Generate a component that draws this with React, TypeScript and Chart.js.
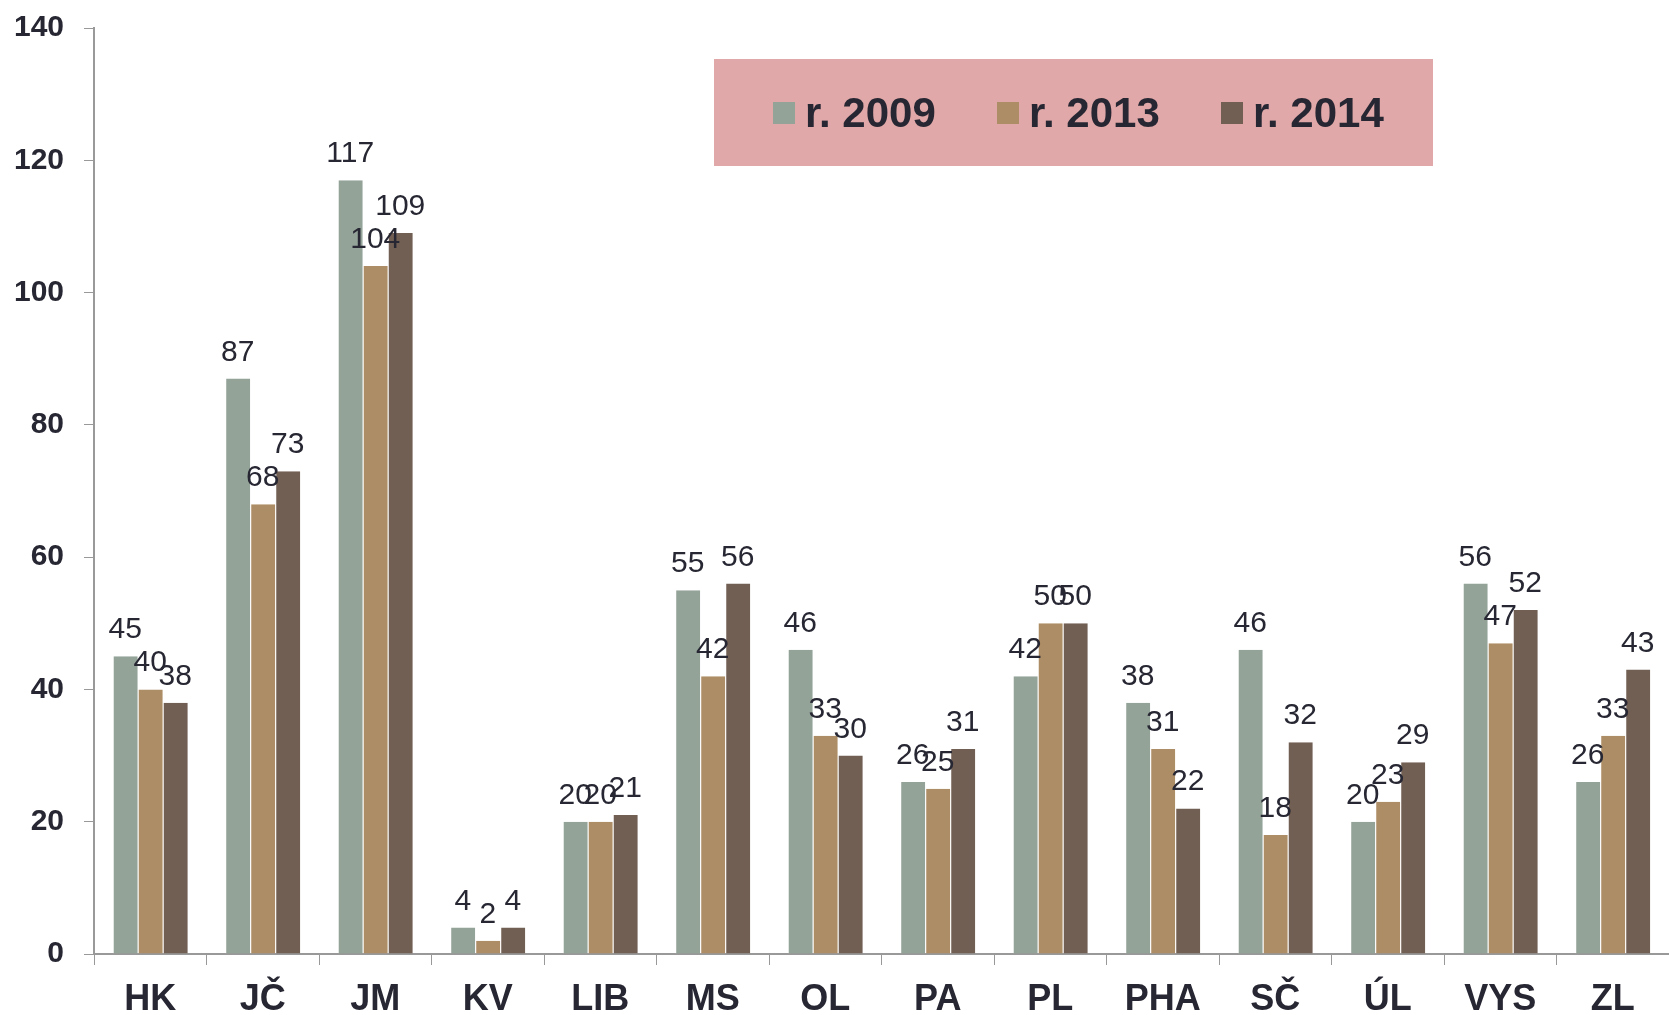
import React, { useEffect, useRef } from "react";
import { Chart, registerables } from "chart.js";

Chart.register(...registerables);

const categories = ["HK", "JČ", "JM", "KV", "LIB", "MS", "OL", "PA", "PL", "PHA", "SČ", "ÚL", "VYS", "ZL"];
const seriesNames = ["r. 2009", "r. 2013", "r. 2014"];
const values2009 = [45, 87, 117, 4, 20, 55, 46, 26, 42, 38, 46, 20, 56, 26];
const values2013 = [40, 68, 104, 2, 20, 42, 33, 25, 50, 31, 18, 23, 47, 33];
const values2014 = [38, 73, 109, 4, 21, 56, 30, 31, 50, 22, 32, 29, 52, 43];
const colors = ["#93A398", "#AD8D65", "#725F53"];

const FONT = "'Liberation Sans', Arial, sans-serif";
const TEXT = "#272733";

const labelPlugin = {
  id: "valueLabels",
  afterDatasetsDraw(chart: any) {
    const ctx = chart.ctx;
    ctx.save();
    ctx.font = `30px ${FONT}`;
    ctx.fillStyle = TEXT;
    ctx.textAlign = "center";
    ctx.textBaseline = "alphabetic";
    chart.data.datasets.forEach((ds: any, i: number) => {
      const meta = chart.getDatasetMeta(i);
      meta.data.forEach((el: any, j: number) => {
        ctx.fillText(String(ds.data[j]), el.x, el.y - 18);
      });
    });
    ctx.restore();
  },
};

const legendPlugin = {
  id: "customLegend",
  afterDraw(chart: any) {
    const ctx = chart.ctx;
    ctx.save();
    ctx.fillStyle = "#E0A8A8";
    ctx.fillRect(714, 59, 719, 107);
    const xs = [773, 997, 1221];
    ctx.font = `bold 42px ${FONT}`;
    ctx.textBaseline = "alphabetic";
    ctx.textAlign = "left";
    chart.data.datasets.forEach((ds: any, i: number) => {
      ctx.fillStyle = ds.backgroundColor;
      ctx.fillRect(xs[i], 102, 22, 22);
      ctx.fillStyle = TEXT;
      ctx.fillText(ds.label, xs[i] + 32, 127);
    });
    ctx.restore();
  },
};

export default function App() {
  const ref = useRef<HTMLCanvasElement>(null);
  useEffect(() => {
    if (!ref.current) return;
    const chart = new Chart(ref.current, {
      type: "bar",
      data: {
        labels: categories,
        datasets: [values2009, values2013, values2014].map((d, i) => ({
          label: seriesNames[i],
          data: d,
          backgroundColor: colors[i],
          borderColor: "rgba(255,255,255,0.35)",
          borderWidth: { left: 1, right: 0, top: 0, bottom: 0 },
          barPercentage: 1,
          categoryPercentage: 0.667,
        })),
      },
      options: {
        animation: false,
        responsive: false,
        maintainAspectRatio: false,
        layout: { padding: { top: 28, right: 0, left: 0, bottom: 0 } },
        plugins: { legend: { display: false }, tooltip: { enabled: false } },
        scales: {
          x: {
            grid: { display: true, drawOnChartArea: false, tickLength: 11, color: "#999999", offset: true },
            border: { color: "#999999", width: 2 },
            ticks: { font: { family: FONT, size: 36, weight: "bold" }, color: TEXT, padding: 13 },
            afterFit: (s: any) => { s.height = 61; },
          },
          y: {
            min: 0,
            max: 140,
            grid: { display: true, drawOnChartArea: false, tickLength: 10, color: "#999999" },
            border: { color: "#999999", width: 2 },
            ticks: { stepSize: 20, font: { family: FONT, size: 30, weight: "bold" }, color: TEXT, padding: 20 },
            afterFit: (s: any) => { s.width = 94; s.paddingTop = 0; s.paddingBottom = 0; },
          },
        },
      },
      plugins: [labelPlugin, legendPlugin],
    });
    return () => chart.destroy();
  }, []);
  return (
    <div style={{ position: "absolute", left: 0, top: 0, width: 1669, height: 1015, background: "#fff" }}>
      <canvas ref={ref} width={1669} height={1015} style={{ width: 1669, height: 1015 }} />
    </div>
  );
}
